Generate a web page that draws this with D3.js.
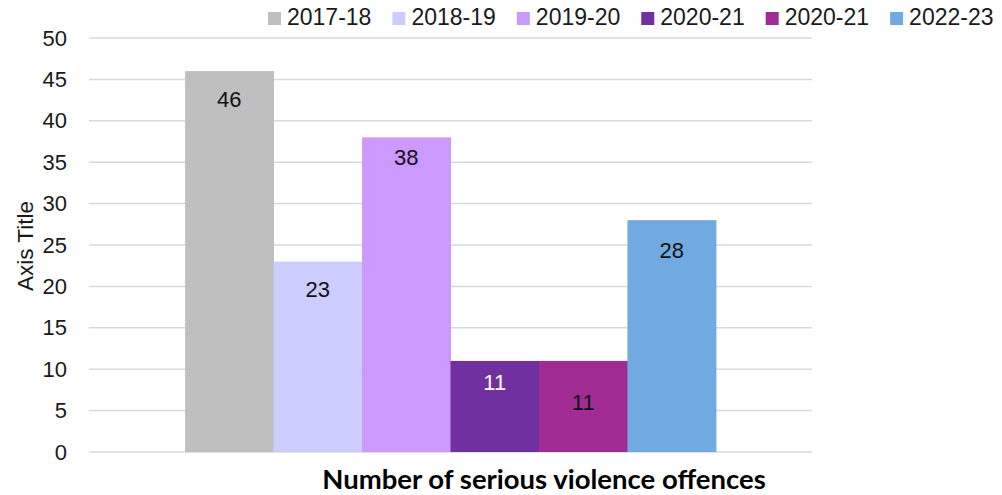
<!DOCTYPE html>
<html>
<head>
<meta charset="utf-8">
<script src="https://cdn.jsdelivr.net/npm/d3@7"></script>
<style>
  body { margin: 0; background: #fff; }
  svg { display: block; }
</style>
</head>
<body>
<div id="chart"></div>
<script>
const CATEGORIES = ["Number of serious violence offences"];
const SERIES = ["2017-18", "2018-19", "2019-20", "2020-21", "2020-21", "2022-23"];
const VALUES = [46, 23, 38, 11, 11, 28];
const Y_TICKS = [0, 5, 10, 15, 20, 25, 30, 35, 40, 45, 50];

const COLORS = ["#bfbfbf", "#ccccff", "#cc99ff", "#7030a0", "#a02b93", "#71aae0"];
const LABEL_COLORS = ["#111", "#111", "#111", "#fff", "#111", "#111"];
// excel put the labels at slightly different depths inside the bars
const LABEL_DY = [28, 28, 20, 21, 41, 30];

const W = 1002, H = 495;
const plot = { left: 89, right: 812, top: 38, bottom: 452 };
const FONT = "'Liberation Sans', Arial, sans-serif";

const svg = d3.select("#chart").append("svg")
    .attr("width", W)
    .attr("height", H);

const x0 = d3.scaleBand()
    .domain(CATEGORIES)
    .range([plot.left, plot.right])
    .paddingInner(0)
    .paddingOuter(0.181);

const x1 = d3.scaleBand()
    .domain(d3.range(SERIES.length))
    .range([0, x0.bandwidth()])
    .padding(0);

const y = d3.scaleLinear()
    .domain([0, 50])
    .range([plot.bottom, plot.top]);

// gridlines
svg.append("g")
    .selectAll("line")
    .data(Y_TICKS)
    .enter().append("line")
    .attr("x1", plot.left)
    .attr("x2", plot.right)
    .attr("y1", d => y(d))
    .attr("y2", d => y(d))
    .attr("stroke", "#d9d9d9")
    .attr("stroke-width", 1.5);

// y axis labels
const yAxis = svg.append("g")
    .attr("transform", `translate(${plot.left}, 0)`)
    .call(d3.axisLeft(y).tickValues(Y_TICKS).tickSize(0).tickPadding(22));
yAxis.select(".domain").remove();
yAxis.selectAll("text")
    .style("font-family", FONT)
    .style("font-size", "22px")
    .style("fill", "#1a1a1a");

const rows = VALUES.map((v, i) => ({ i, series: SERIES[i], value: v }));

const group = svg.append("g")
    .attr("transform", `translate(${x0(CATEGORIES[0])}, 0)`);

group.selectAll("rect")
    .data(rows)
    .enter().append("rect")
    .attr("x", d => x1(d.i))
    .attr("y", d => y(d.value))
    .attr("width", x1.bandwidth() + 0.5)
    .attr("height", d => y(0) - y(d.value))
    .attr("fill", d => COLORS[d.i]);

group.selectAll("text.lbl")
    .data(rows)
    .enter().append("text")
    .attr("class", "lbl")
    .attr("x", d => x1(d.i) + x1.bandwidth() / 2)
    .attr("y", d => y(d.value) + LABEL_DY[d.i])
    .attr("dy", "0.35em")
    .attr("text-anchor", "middle")
    .style("font-family", FONT)
    .style("font-size", "22px")
    .style("fill", d => LABEL_COLORS[d.i])
    .text(d => d.value);

// axis titles
svg.append("text")
    .attr("transform", `translate(33, 246) rotate(-90)`)
    .attr("text-anchor", "middle")
    .style("font-family", FONT)
    .style("font-size", "22.5px")
    .style("fill", "#1a1a1a")
    .text("Axis Title");

svg.append("text")
    .attr("x", 544)
    .attr("y", 489)
    .attr("text-anchor", "middle")
    .style("font-family", "Lato, 'Open Sans', sans-serif")
    .style("font-weight", "bold")
    .style("font-size", "27.5px")
    .style("fill", "#000")
    .text(CATEGORIES[0]);

// legend
const legend = svg.append("g").attr("transform", "translate(268, 0)");
let lx = 0;
SERIES.forEach((s, i) => {
    const item = legend.append("g").attr("transform", `translate(${lx}, 0)`);
    item.append("rect")
        .attr("x", 0)
        .attr("y", 12)
        .attr("width", 13)
        .attr("height", 13)
        .attr("fill", COLORS[i]);
    const t = item.append("text")
        .attr("x", 19)
        .attr("y", 25)
        .style("font-family", FONT)
        .style("font-size", "23px")
        .style("fill", "#1a1a1a")
        .text(s);
    lx += 19 + t.node().getComputedTextLength() + 21;
});
</script>
</body>
</html>
